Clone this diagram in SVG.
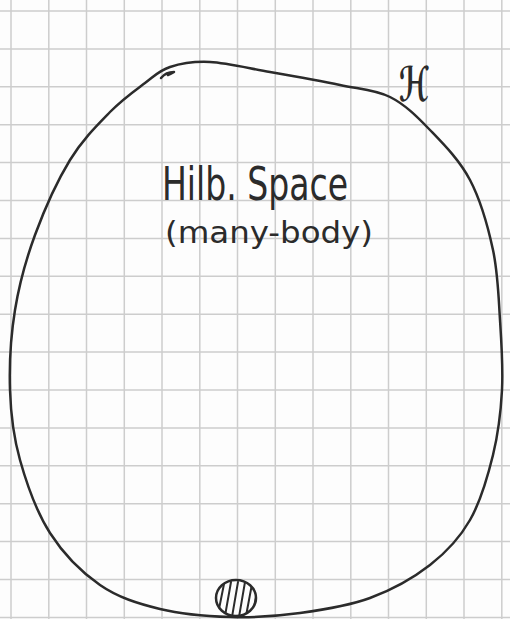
<svg xmlns="http://www.w3.org/2000/svg" width="510" height="619" viewBox="0 0 510 619">
  <style>
    .grid { stroke: #cdcdcd; stroke-width: 1.5; fill: none; }
    .ink { stroke: #2b2b2b; stroke-width: 2.5; fill: none; stroke-linecap: round; stroke-linejoin: round; }
    .hatch { stroke: #2b2b2b; stroke-width: 2; fill: none; stroke-linecap: round; }
    .hand { font-family: "DejaVu Sans Condensed", "Liberation Sans Narrow", "Liberation Sans", sans-serif; fill: #2b2b2b; }
  </style>
  <defs>
    <clipPath id="blobClip">
      <ellipse cx="236" cy="598" rx="20" ry="18"/>
    </clipPath>
  </defs>
  <rect width="510" height="619" fill="#fdfdfd"/>
  <g id="grid">
    <path class="grid" d="M11,0V619 M48.8,0V619 M86.5,0V619 M124.3,0V619 M162,0V619 M199.8,0V619 M237.5,0V619 M275.3,0V619 M313,0V619 M350.8,0V619 M388.5,0V619 M426.3,0V619 M464,0V619 M501.8,0V619"/>
    <path class="grid" d="M0,11H510 M0,48.9H510 M0,86.8H510 M0,124.7H510 M0,162.6H510 M0,200.5H510 M0,238.4H510 M0,276.3H510 M0,314.2H510 M0,352.1H510 M0,390H510 M0,427.9H510 M0,465.8H510 M0,503.7H510 M0,541.6H510 M0,579.5H510 M0,617.4H510"/>
  </g>
  <g id="hilbert-space">
    <path class="ink" d="M170,67 C180.8,63.5 193.3,61.2 210,62 C226.7,62.8 248.3,68.2 270,72 C291.7,75.8 320,80.8 340,85 C360,89.2 375,89.5 390,97 C405,104.5 416.7,116.2 430,130 C443.3,143.8 459.5,160 470,180 C480.5,200 488,226.7 493,250 C498,273.3 498.5,296.7 500,320 C501.5,343.3 503.2,367.5 502,390 C500.8,412.5 498.3,433.3 493,455 C487.7,476.7 480.5,501.7 470,520 C459.5,538.3 446.7,552 430,565 C413.3,578 391.7,590 370,598 C348.3,606 323.3,609.8 300,613 C276.7,616.2 253.3,617.7 230,617 C206.7,616.3 181.7,614.3 160,609 C138.3,603.7 118.3,597.7 100,585 C81.7,572.3 63.3,553.8 50,533 C36.7,512.2 26.7,483.8 20,460 C13.3,436.2 10.8,415 10,390 C9.2,365 10.8,335.8 15,310 C19.2,284.2 25.8,260 35,235 C44.2,210 57.5,180.5 70,160 C82.5,139.5 97.5,124.8 110,112 C122.5,99.2 135,90.5 145,83 C155,75.5 159.2,70.5 170,67"/>
    <path class="ink" d="M161,78 Q166,72 174,72 Q171,74 168,75"/>
    <text class="hand" x="162" y="200" font-size="47" textLength="186" lengthAdjust="spacingAndGlyphs">Hilb. Space</text>
    <text class="hand" x="165" y="243" font-size="30" textLength="208" lengthAdjust="spacingAndGlyphs">(many-body)</text>
  </g>
  <g id="label-H">
    <text x="399" y="101" font-family="DejaVu Sans, sans-serif" font-size="48" font-weight="bold" textLength="30" lengthAdjust="spacingAndGlyphs" fill="#2b2b2b">ℋ</text>
  </g>
  <g id="state-blob">
    <ellipse cx="236" cy="598" rx="20" ry="18" fill="#fdfdfd" stroke="#2b2b2b" stroke-width="2.5"/>
    <g clip-path="url(#blobClip)">
      <path class="hatch" d="M218,614 L224,584 M225,616 L231,582 M232,617 L238,582 M239,617 L245,582 M246,616 L252,584 M253,612 L257,592"/>
    </g>
  </g>
</svg>
